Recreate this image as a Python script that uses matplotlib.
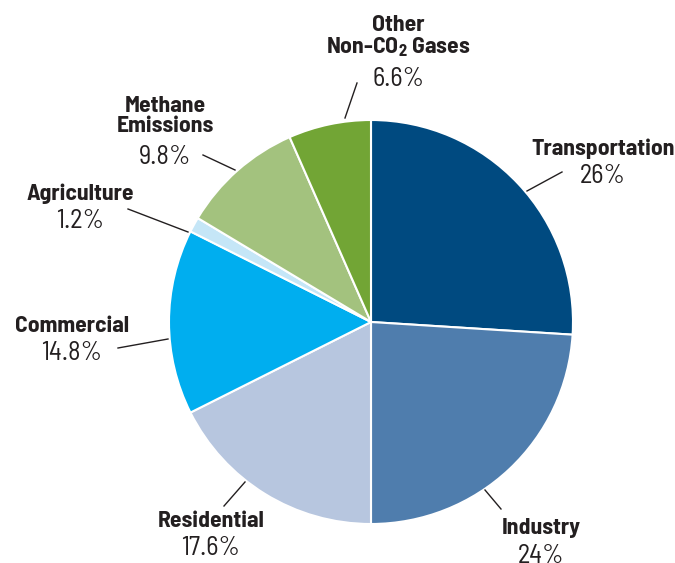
import matplotlib
matplotlib.use("Agg")
import matplotlib.pyplot as plt

labels = ["Transportation", "Industry", "Residential", "Commercial",
          "Agriculture", "Methane\nEmissions", "Other\nNon-CO$_2$ Gases"]
shares = [26, 24, 17.6, 14.8, 1.2, 9.8, 6.6]
pct_text = ["26%", "24%", "17.6%", "14.8%", "1.2%", "9.8%", "6.6%"]
colors = ["#004a80", "#4f7dad", "#b7c6df", "#00aeef", "#c5e6f7", "#a3c27e", "#72a535"]

# label placement in pixel coords (x, y of name, y of percentage), y from top
label_pos = [(603, 149, 176), (541, 528, 556), (211, 521, 548), (72, 326, 353),
             (80, 194, 221), (165, 116, 157), (398, 37, 79)]
leaders = [((527, 191), (562, 172)), ((485, 490), (501, 509)), ((245, 482), (224, 506)),
           ((168, 339), (118, 348)), ((188, 232), (128, 209)), ((235, 170), (203, 155)),
           ((345, 118), (357, 83))]

plt.rcParams["font.family"] = ["Barlow Semi Condensed", "DejaVu Sans"]
plt.rcParams["mathtext.fontset"] = "custom"
plt.rcParams["mathtext.rm"] = "Barlow Semi Condensed:bold"
plt.rcParams["mathtext.it"] = "Barlow Semi Condensed:bold"
plt.rcParams["mathtext.bf"] = "Barlow Semi Condensed:bold"

W, H = 675, 563
fig = plt.figure(figsize=(W / 100, H / 100), dpi=100)
ax = fig.add_axes([0, 0, 1, 1])

ax.pie(shares, colors=colors, startangle=90, counterclock=False,
       center=(371, H - 322), radius=202,
       wedgeprops={"edgecolor": "white", "linewidth": 1.5})
ax.set_xlim(0, W)
ax.set_ylim(0, H)
ax.set_aspect("equal")
ax.axis("off")

for lab, pct, (x, yl, yp) in zip(labels, pct_text, label_pos):
    ax.text(x, H - yl, lab, ha="center", va="center", fontsize=17,
            fontweight="bold", color="#231f20", linespacing=1.0)
    ax.text(x, H - yp, pct, ha="center", va="center", fontsize=19,
            color="#231f20")

for (x0, y0), (x1, y1) in leaders:
    ax.plot([x0, x1], [H - y0, H - y1], color="#231f20", linewidth=1)

fig.savefig("out.png", dpi=100)
